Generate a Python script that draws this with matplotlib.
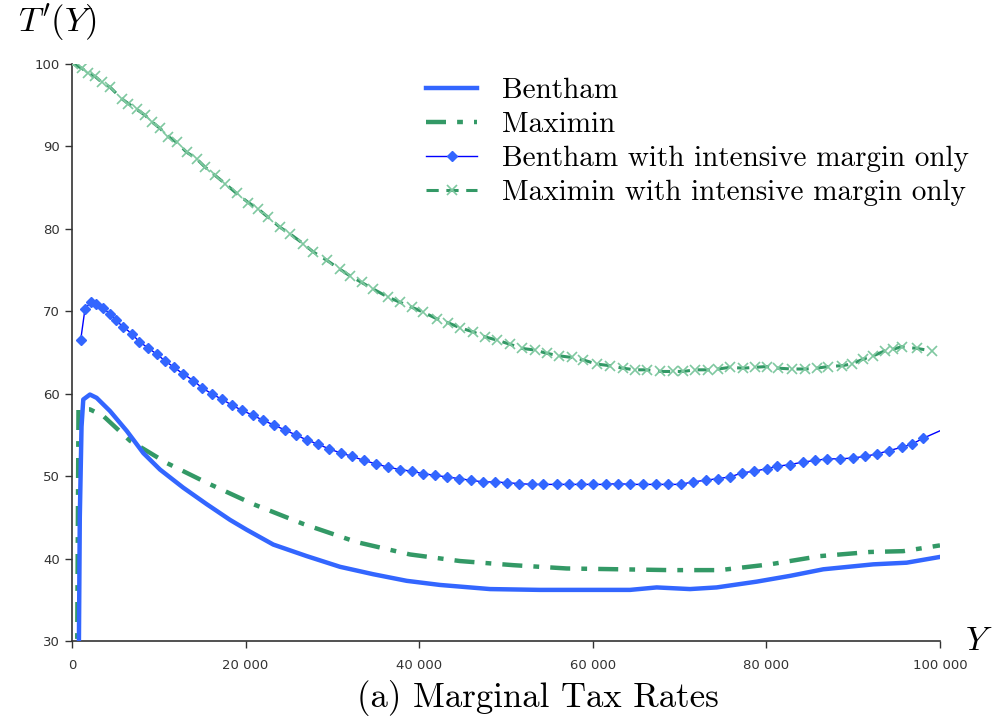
import matplotlib.pyplot as plt
from matplotlib.ticker import FuncFormatter

# Bentham (thick solid blue)
bentham_y = [700, 800, 900, 1100, 1300, 2070, 2840, 4380, 6300, 8220, 10140, 12820, 15520, 18200,
             20120, 23190, 27040, 30880, 34710, 38560, 42400, 48160, 53920, 60450, 64290,
             67360, 71200, 74270, 78880, 82720, 86560, 92320, 96160, 100000]
bentham_t = [20, 30, 45, 56, 59.3, 59.9, 59.5, 57.9, 55.5, 52.8, 50.8, 48.6, 46.6, 44.7,
             43.5, 41.7, 40.3, 39.0, 38.1, 37.3, 36.8, 36.3, 36.2, 36.2, 36.2,
             36.5, 36.3, 36.5, 37.2, 37.9, 38.7, 39.3, 39.5, 40.2]

# Maximin (green dash-dot)
maximin_y = [500, 600, 750, 2070, 3610, 6680, 10910, 15520, 20890, 26650, 32800, 38940,
             44700, 50840, 56990, 63130, 68890, 74650, 80410, 86180, 91940, 95770, 100000]
maximin_t = [20, 29, 58.1, 58.1, 57.3, 54.3, 51.6, 49.2, 46.6, 44.2, 42.0, 40.5,
             39.7, 39.2, 38.8, 38.7, 38.6, 38.6, 39.3, 40.3, 40.8, 40.9, 41.6]

# Bentham with intensive margin only (thin blue, diamonds); last point is the line end
bi_y = [1000, 1500, 2150, 2760, 3540, 4380, 5070, 5910, 6880, 7750, 8720, 9760, 10710,
        11750, 12820, 13970, 15010, 16090, 17310, 18470, 19550, 20820, 21970, 23270, 24540,
        25800, 27040, 28300, 29640, 30990, 32290, 33640, 34990, 36370, 37790, 39130,
        40470, 41820, 43230, 44620, 45960, 47380, 48760, 50150, 51530, 52960, 54300,
        55840, 57250, 58600, 59980, 61480, 62930, 64280, 65810, 67240, 68690, 70120,
        71500, 73000, 74380, 75800, 77220, 78600, 80030, 81250, 82710, 84180, 85560,
        87010, 88470, 89940, 91350, 92770, 94150, 95580, 96800, 98070, 100000]
bi_t = [66.5, 70.3, 71.1, 70.9, 70.4, 69.7, 68.9, 68.1, 67.3, 66.3, 65.6, 64.8, 64.0,
        63.2, 62.4, 61.6, 60.7, 60.0, 59.3, 58.6, 58.0, 57.4, 56.8, 56.2, 55.6,
        55.0, 54.4, 53.9, 53.3, 52.8, 52.4, 51.9, 51.5, 51.1, 50.8, 50.6,
        50.3, 50.1, 49.9, 49.7, 49.5, 49.3, 49.3, 49.2, 49.1, 49.0, 49.0,
        49.0, 49.0, 49.0, 49.0, 49.0, 49.1, 49.0, 49.0, 49.0, 49.0, 49.0,
        49.3, 49.5, 49.7, 49.9, 50.4, 50.6, 50.9, 51.2, 51.4, 51.7, 51.9,
        52.1, 52.1, 52.2, 52.4, 52.7, 53.1, 53.5, 53.9, 54.6, 55.5]

# Maximin with intensive margin only (green dashed, x markers)
mi_y = [150, 1110, 1880, 2650, 3420, 4380, 5720, 6490, 7450, 8410, 9180, 10140, 11100,
        12060, 13210, 14360, 15320, 16470, 17630, 18970, 20310, 21460, 22610, 23960,
        25110, 26650, 27800, 29340, 30870, 32030, 33370, 34710, 36440, 37790, 39130,
        40470, 42010, 43350, 44700, 46230, 47580, 48990, 50460, 51810, 53340, 54690,
        56140, 57570, 58900, 60450, 61980, 63440, 64860, 66200, 67740, 69270, 70420,
        71770, 73300, 74450, 75800, 77330, 78680, 80030, 81370, 82910, 84440, 85790,
        87130, 88670, 89820, 91160, 92310, 93660, 94610, 95580, 97310, 99040]
mi_t = [100.0, 99.5, 98.9, 98.5, 97.8, 97.2, 95.8, 95.2, 94.5, 93.8, 93.0, 92.2, 91.2,
        90.5, 89.3, 88.5, 87.5, 86.5, 85.5, 84.3, 83.2, 82.4, 81.4, 80.2,
        79.4, 78.2, 77.2, 76.2, 75.1, 74.3, 73.5, 72.7, 71.7, 71.1, 70.5,
        69.9, 69.1, 68.6, 68.0, 67.5, 66.9, 66.5, 66.0, 65.5, 65.3, 64.9,
        64.6, 64.4, 64.1, 63.6, 63.4, 63.1, 62.9, 62.9, 62.7, 62.7, 62.7,
        62.9, 62.9, 63.0, 63.2, 63.1, 63.2, 63.3, 63.1, 63.0, 63.0, 63.1,
        63.3, 63.4, 63.6, 64.2, 64.6, 65.2, 65.4, 65.7, 65.5, 65.2]

BLUE = "#3366FF"
GREEN = "#339966"

plt.rcParams["mathtext.fontset"] = "cm"

fig = plt.figure(figsize=(9.97, 7.17), dpi=100)
ax = fig.add_axes([0.0722, 0.106, 0.8706, 0.8047])

ax.plot(bentham_y, bentham_t, color=BLUE, lw=3.2, label="Bentham", zorder=4)
ax.plot(maximin_y, maximin_t, color=GREEN, lw=3.2, dashes=(4.5, 2.5, 1.3, 2.5),
        label="Maximin", zorder=3)
ax.plot(bi_y, bi_t, color="#0000FF", lw=1.0, marker="D", ms=5, mfc=BLUE, mec=BLUE,
        markevery=list(range(len(bi_y) - 1)),
        label="Bentham with intensive margin only", zorder=5)
ax.plot(mi_y, mi_t, color=GREEN, lw=2.2, dashes=(4, 2.5), marker="x", ms=7, mew=1.2,
        mec="#7FC8A0", label="Maximin with intensive margin only", zorder=5)

ax.set_xlim(0, 100000)
ax.set_ylim(30, 100)
ax.set_xticks(range(0, 100001, 20000))
ax.set_yticks(range(30, 101, 10))
ax.xaxis.set_major_formatter(FuncFormatter(lambda v, p: f"{int(v):,}".replace(",", " ")))
ax.tick_params(axis="both", direction="out", length=5, width=1, colors="#333333", labelsize=9.5)
ax.tick_params(axis="x", pad=8)
for side in ["top", "right"]:
    ax.spines[side].set_visible(False)
for side in ["left", "bottom"]:
    ax.spines[side].set_color("#333333")
    ax.spines[side].set_linewidth(1.2)

ax.legend(loc="upper left", bbox_to_anchor=(0.408, 0.976), frameon=False,
          prop={"family": "cmr10", "size": 21}, handlelength=1.75, labelspacing=0.26,
          handletextpad=0.85, borderpad=0, borderaxespad=0)

fig.text(0.018, 0.94, r"$T'(Y)$", fontsize=25, ha="left", va="bottom")
fig.text(0.968, 0.083, r"$Y$", fontsize=24, ha="left", va="bottom")
fig.text(0.539, 0.027, "(a) Marginal Tax Rates", family="cmr10", fontsize=25,
         ha="center", va="center")

plt.savefig("out.png", dpi=100)
